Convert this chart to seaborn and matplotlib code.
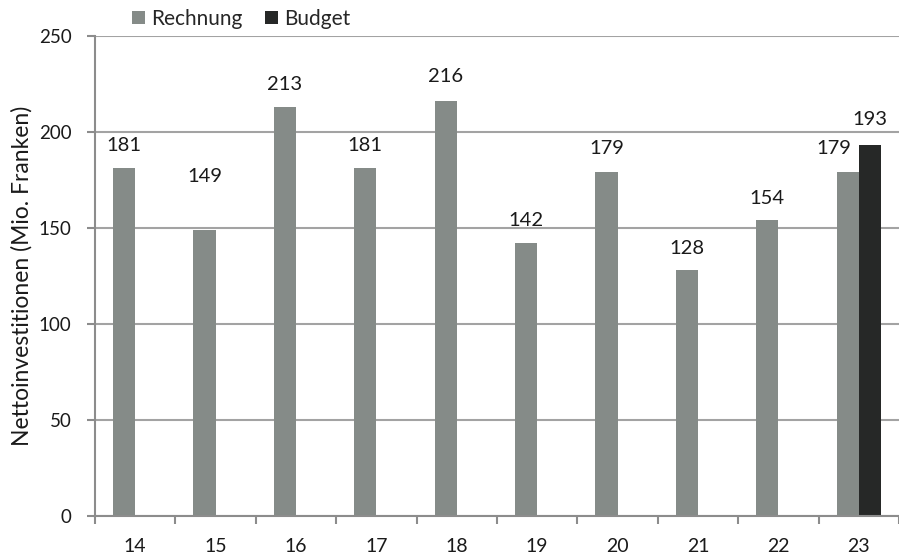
import matplotlib
matplotlib.use("Agg")
import matplotlib.pyplot as plt
from matplotlib.ticker import FixedLocator, MultipleLocator
from matplotlib.patches import Patch
import seaborn as sns
import pandas as pd
import numpy as np

# ---- data ----
years = ["14", "15", "16", "17", "18", "19", "20", "21", "22", "23"]
rechnung = [181, 149, 213, 181, 216, 142, 179, 128, 154, 179]
budget_years = ["23"]
budget = [193]
series_names = ["Rechnung", "Budget"]
y_label = "Nettoinvestitionen (Mio. Franken)"

# ---- styles ----
colors = {"Rechnung": "#858b88", "Budget": "#262827"}
grid_col = "#a3a3a3"
spine_col = "#8c8c8c"
# label offsets in pixels (dx, dy) for Rechnung labels, then Budget labels
rech_offsets = [(0, 23), (0, 53), (0, 23), (0, 23), (0, 25),
                (0, 23), (0, 24), (0, 22), (0, 22), (-14, 24)]
bud_offsets = [(0, 26)]

sns.set_theme(style="white")
plt.rcParams["font.family"] = ["Lato", "DejaVu Sans"]

df = pd.concat([
    pd.DataFrame({"Jahr": years, "Wert": rechnung, "Serie": "Rechnung"}),
    pd.DataFrame({"Jahr": budget_years, "Wert": budget, "Serie": "Budget"}),
], ignore_index=True)

fig = plt.figure(figsize=(8.99, 5.56), dpi=100)
ax = fig.add_axes([95 / 899, 1 - 516 / 556, (899 - 95) / 899, (516 - 36) / 556])

sns.barplot(data=df, x="Jahr", y="Wert", hue="Serie", order=years,
            hue_order=series_names, palette=colors, width=0.55, gap=0,
            dodge=True, ax=ax, legend=False, saturation=1, linewidth=0,
            errorbar=None)

ax.set_xlim(-0.5, len(years) - 0.5)
ax.set_ylim(0, 250)
ax.yaxis.set_major_locator(MultipleLocator(50))
ax.yaxis.grid(True, color=grid_col, linewidth=1.5)
ax.set_axisbelow(True)

for s in ["top", "right"]:
    ax.spines[s].set_visible(False)
for s in ["left", "bottom"]:
    ax.spines[s].set_color(spine_col)
    ax.spines[s].set_linewidth(1.5)

ax.tick_params(axis="y", which="major", left=True, length=6, width=1.5,
               color=spine_col, labelsize=13.5, labelcolor="#1a1a1a", pad=11)
ax.xaxis.set_minor_locator(FixedLocator(np.arange(-0.5, len(years), 1.0)))
ax.tick_params(axis="x", which="major", bottom=False, length=0,
               labelsize=14, labelcolor="#1a1a1a", pad=16)
ax.tick_params(axis="x", which="minor", bottom=True, length=6, width=1.5,
               color=spine_col)

ax.set_xlabel("")
ax.set_ylabel(y_label, fontsize=16.5, color="#1a1a1a", labelpad=4)

# data labels
rech_bars = ax.containers[0]
bud_bars = ax.containers[1]
for bar, val, (dx, dy) in zip(rech_bars, rechnung, rech_offsets):
    x = bar.get_x() + bar.get_width() / 2
    ax.annotate(f"{val}", (x, bar.get_height()), xytext=(dx * 0.72, dy * 0.72),
                textcoords="offset points", ha="center", va="center",
                fontsize=14.5, color="#1a1a1a")
valid = [b for b in bud_bars if not np.isnan(b.get_height()) and b.get_height() > 0]
for bar, val, (dx, dy) in zip(valid, budget, bud_offsets):
    x = bar.get_x() + bar.get_width() / 2
    ax.annotate(f"{val}", (x, bar.get_height()), xytext=(dx * 0.72, dy * 0.72),
                textcoords="offset points", ha="center", va="center",
                fontsize=14.5, color="#1a1a1a")

handles = [Patch(facecolor=colors[n], edgecolor="none") for n in series_names]
fig.legend(handles, series_names, loc="center left",
           bbox_to_anchor=(132 / 899, 1 - 19 / 556), ncol=2, frameon=False,
           fontsize=15, handlelength=0.6, handleheight=0.6,
           handletextpad=0.3, columnspacing=1.1, borderaxespad=0,
           borderpad=0)

fig.savefig("out.png", dpi=100)
